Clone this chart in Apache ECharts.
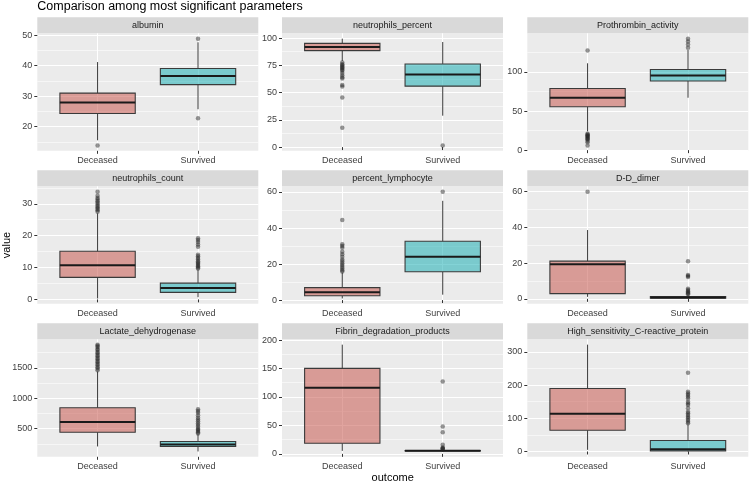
<!DOCTYPE html>
<html><head><meta charset="utf-8">
<script src="https://cdn.jsdelivr.net/npm/echarts@6/dist/echarts.min.js"></script>
<style>html,body{margin:0;padding:0;background:#fff}#c{width:749px;height:483px}</style>
</head><body><div id="c"></div>
<script>
// ---------------- data ----------------
const TITLE = 'Comparison among most significant parameters';
const PARAMS = ['albumin', 'neutrophils_percent', 'Prothrombin_activity',
  'neutrophils_count', 'percent_lymphocyte', 'D-D_dimer',
  'Lactate_dehydrogenase', 'Fibrin_degradation_products', 'High_sensitivity_C-reactive_protein'];
const OUTCOMES = ['Deceased', 'Survived'];

// [lower whisker, Q1, median, Q3, upper whisker]
const deceasedBoxes = [
  [15.5, 24.3, 27.9, 31.0, 41.2],
  [79, 88.5, 91.8, 95.2, 99.5],
  [24, 55.5, 67, 78.8, 111],
  [0.3, 6.9, 10.7, 15.1, 27],
  [0.9, 2.4, 4.3, 6.9, 15.3],
  [1.1, 2.9, 19.4, 21.1, 38.5],
  [207, 441, 609, 842, 1440],
  [5.2, 18.6, 116, 150.3, 192],
  [5, 64, 114, 190, 322]
];
const survivedBoxes = [
  [25.7, 33.8, 36.6, 39.1, 47.7],
  [28.8, 55.9, 66.6, 76.3, 96.4],
  [67, 88.4, 95.5, 103, 128],
  [0.7, 2.2, 3.6, 5.1, 9.3],
  [3, 15.7, 24.1, 32.7, 55.1],
  [0.2, 0.4, 0.7, 1.3, 2.2],
  [125, 207, 239, 288, 408],
  [4.2, 5, 5.5, 6, 7],
  [0.1, 2, 7, 33, 82]
];
const deceasedOutliers = [
  [13.8],
  [77.5, 76, 75, 74, 73, 72, 71, 70, 68, 66, 64, 63, 57, 55.5, 45.6, 17.8],
  [127.5, 21, 20, 19, 18, 17, 16, 15, 14, 12, 10, 6],
  [27.5, 28, 28.4, 28.8, 29.3, 29.8, 30.3, 30.8, 31.3, 31.8, 32.5, 33.8],
  [15.8, 16.5, 17.5, 18.5, 19.5, 20.5, 21.5, 22.5, 24, 25.5, 26.8, 29, 30, 31, 44.5],
  [60],
  [1460, 1490, 1510, 1540, 1560, 1590, 1610, 1640, 1660, 1690, 1710, 1740, 1760, 1790, 1810, 1840, 1860, 1880],
  [],
  []
];
const survivedOutliers = [
  [22.7, 48.9],
  [1.5],
  [131, 135, 138.8, 142.5],
  [9.7, 10, 10.4, 10.8, 11.2, 11.6, 12, 12.5, 13, 13.5, 14, 16.5, 17.2, 18, 18.6, 19.2],
  [60.2],
  [2.6, 3.1, 3.6, 4.2, 5.0, 5.7, 12.2, 12.8, 13.3, 21.1],
  [420, 440, 460, 480, 500, 530, 560, 590, 620, 650, 680, 720, 760, 790, 820],
  [8, 9, 10, 11, 16, 38, 48, 127],
  [85, 90, 95, 100, 105, 110, 115, 120, 130, 140, 145, 150, 160, 165, 170, 175, 180, 237]
];
const yTicks = [
  [20, 30, 40, 50],
  [0, 25, 50, 75, 100],
  [0, 50, 100],
  [0, 10, 20, 30],
  [0, 20, 40, 60],
  [0, 20, 40, 60],
  [500, 1000, 1500],
  [0, 50, 100, 150, 200],
  [0, 100, 200, 300]
];

// ---------------- layout / style ----------------
const FONT = 'Liberation Sans, Arial, sans-serif';
const COL_LEFT = [37.3, 282, 527.3];
const ROW_TOP = [17.3, 170.3, 323.3];
const PANEL_W = 221;
const STRIP_H = 16;
const PANEL_H = 117.5;
const BOX_WIDTH = 0.75;
const FILLS = ['rgba(200,90,80,0.55)', 'rgba(30,175,180,0.55)'];
const TICK_TEXT = '#404040';

const grids = [], xAxes = [], yAxes = [], series = [], graphics = [];

PARAMS.forEach((name, i) => {
  const r = Math.floor(i / 3), c = i % 3;
  const left = COL_LEFT[c], top = ROW_TOP[r] + STRIP_H;
  grids.push({left, top, width: PANEL_W, height: PANEL_H, show: true,
    backgroundColor: '#EBEBEB', borderWidth: 0, containLabel: false});

  const all = deceasedBoxes[i].concat(survivedBoxes[i], deceasedOutliers[i], survivedOutliers[i]);
  const lo = Math.min(...all), hi = Math.max(...all);
  const pad = 0.05 * (hi - lo);
  const ymin = lo - pad, ymax = hi + pad;
  const ticks = yTicks[i];
  const step = ticks[1] - ticks[0];
  const minors = [];
  for (let v = ticks[0] - step / 2; v <= ymax; v += step) {
    if (v >= ymin) minors.push(v);
  }

  xAxes.push({gridIndex: i, type: 'value', min: 0.4, max: 2.6,
    axisLine: {show: false},
    axisTick: {show: true, customValues: [1, 2], length: 3, lineStyle: {color: '#333333', width: 1}},
    axisLabel: {show: true, customValues: [1, 2], margin: 5, fontSize: 9, color: TICK_TEXT, fontFamily: FONT,
      formatter: v => OUTCOMES[Math.round(v) - 1]},
    splitLine: {show: true, lineStyle: {color: '#FFFFFF', width: 1}}
  });
  yAxes.push({gridIndex: i, type: 'value', min: ymin, max: ymax, position: 'left',
    axisLine: {show: false},
    axisTick: {show: true, customValues: ticks, length: 3, lineStyle: {color: '#333333', width: 1}},
    axisLabel: {show: true, customValues: ticks, margin: 5, fontSize: 9, color: TICK_TEXT, fontFamily: FONT,
      formatter: v => String(v)},
    splitLine: {show: true, lineStyle: {color: '#FFFFFF', width: 1}}
  });
  yAxes.push({gridIndex: i, type: 'value', min: ymin, max: ymax, position: 'left', offset: 0,
    axisLine: {show: false},
    axisTick: {show: false, customValues: minors},
    axisLabel: {show: false, customValues: minors},
    splitLine: {show: true, lineStyle: {color: 'rgba(255,255,255,0.55)', width: 1}}
  });

  series.push({
    type: 'custom', xAxisIndex: i, yAxisIndex: 2 * i, z: 3,
    data: [[1].concat(deceasedBoxes[i]), [2].concat(survivedBoxes[i])],
    encode: {x: 0, y: [1, 2, 3, 4, 5]},
    renderItem: (params, api) => {
      const x = api.value(0);
      const pLo = api.coord([x, api.value(1)]);
      const pQ1 = api.coord([x, api.value(2)]);
      const pMed = api.coord([x, api.value(3)]);
      const pQ3 = api.coord([x, api.value(4)]);
      const pHi = api.coord([x, api.value(5)]);
      const w = api.size([BOX_WIDTH, 0])[0];
      const fill = FILLS[Math.round(x) - 1];
      const stroke = '#3A3A3A';
      return {type: 'group', children: [
        {type: 'line', shape: {x1: pLo[0], y1: pLo[1], x2: pQ1[0], y2: pQ1[1]}, style: {stroke, lineWidth: 1}},
        {type: 'line', shape: {x1: pQ3[0], y1: pQ3[1], x2: pHi[0], y2: pHi[1]}, style: {stroke, lineWidth: 1}},
        {type: 'rect', shape: {x: pQ3[0] - w / 2, y: pQ3[1], width: w, height: pQ1[1] - pQ3[1]},
          style: {fill, stroke, lineWidth: 1.1}},
        {type: 'line', shape: {x1: pMed[0] - w / 2, y1: pMed[1], x2: pMed[0] + w / 2, y2: pMed[1]},
          style: {stroke: '#1A1A1A', lineWidth: 2}}
      ]};
    }
  });
  const pts = deceasedOutliers[i].map(v => [1, v]).concat(survivedOutliers[i].map(v => [2, v]));
  series.push({
    type: 'scatter', xAxisIndex: i, yAxisIndex: 2 * i, z: 4,
    symbol: 'circle', symbolSize: 4.5, data: pts,
    itemStyle: {color: 'rgba(35,35,35,0.6)'}
  });

  graphics.push({type: 'rect', shape: {x: left, y: ROW_TOP[r], width: PANEL_W, height: STRIP_H},
    style: {fill: '#D9D9D9'}, silent: true});
  graphics.push({type: 'text', x: left + PANEL_W / 2, y: ROW_TOP[r] + STRIP_H / 2,
    style: {text: name, align: 'center', verticalAlign: 'middle', fontSize: 9, fill: '#1A1A1A', fontFamily: FONT}});
});

graphics.push({type: 'text', x: 392.7, y: 477.5,
  style: {text: 'outcome', align: 'center', verticalAlign: 'middle', fontSize: 11, fill: '#000000', fontFamily: FONT}});
graphics.push({type: 'text', x: 7, y: 245, rotation: Math.PI / 2,
  style: {text: 'value', align: 'center', verticalAlign: 'middle', fontSize: 11, fill: '#000000', fontFamily: FONT}});
graphics.push({type: 'text', x: 37.3, y: 7,
  style: {text: TITLE, align: 'left', verticalAlign: 'middle', fontSize: 12.5, fill: '#000000', fontFamily: FONT}});

const chart = echarts.init(document.getElementById('c'), null, {renderer: 'canvas'});
chart.setOption({
  animation: false,
  backgroundColor: '#FFFFFF',
  textStyle: {fontFamily: FONT},
  grid: grids, xAxis: xAxes, yAxis: yAxes, series, graphic: graphics
});
</script></body></html>
